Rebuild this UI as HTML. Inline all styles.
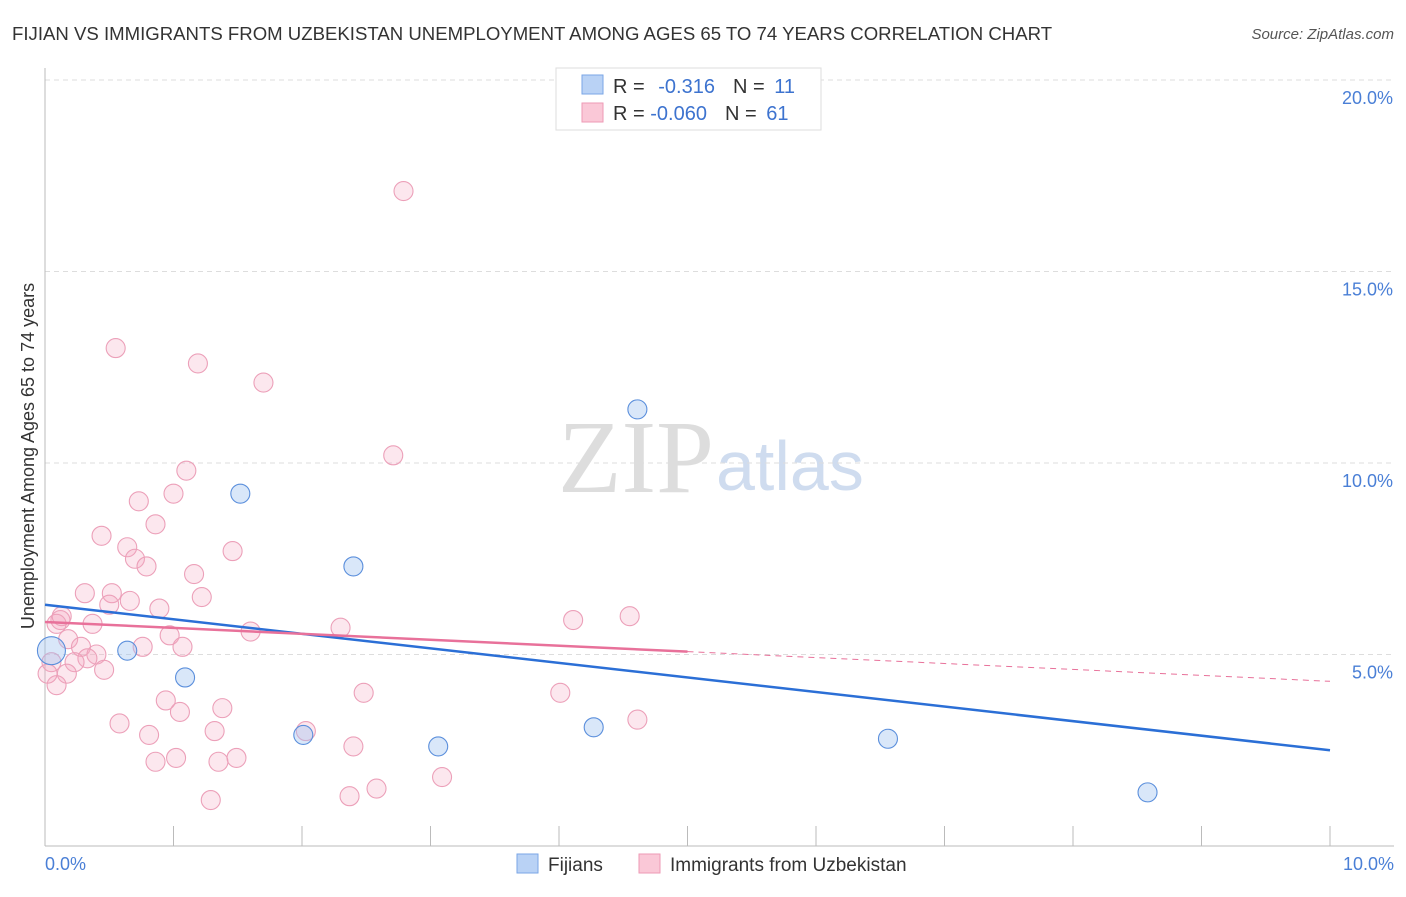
<!DOCTYPE html>
<html><head><meta charset="utf-8"><style>
body{margin:0;background:#fff;font-family:"Liberation Sans",sans-serif}
</style></head><body>
<svg width="1406" height="892" xmlns="http://www.w3.org/2000/svg" font-family="Liberation Sans, sans-serif">
<text x="12" y="40" font-size="18.6" fill="#333">FIJIAN VS IMMIGRANTS FROM UZBEKISTAN UNEMPLOYMENT AMONG AGES 65 TO 74 YEARS CORRELATION CHART</text>
<text x="1394" y="39" font-size="15" fill="#555" text-anchor="end" font-style="italic">Source: ZipAtlas.com</text>
<text x="714" y="492" font-size="104" fill="#ddd" text-anchor="end" font-family="Liberation Serif, serif">ZIP</text>
<text x="716" y="490" font-size="70" fill="#cfdcef">atlas</text>
<g id="grid"></g>
<line x1="45" y1="68" x2="45" y2="846" stroke="#bbb"/>
<line x1="45" y1="846" x2="1394" y2="846" stroke="#bbb"/>
<g id="xt"></g>
<text x="45" y="870" font-size="18" fill="#4a7fd6">0.0%</text>
<text x="1394" y="870" font-size="18" fill="#4a7fd6" text-anchor="end">10.0%</text>
<text transform="translate(34,456) rotate(-90)" font-size="18" fill="#333" text-anchor="middle">Unemployment Among Ages 65 to 74 years</text>
<g id="pts"></g>
<g id="lines"></g>
<g>
<rect x="556" y="68" width="265" height="62" fill="#fff" stroke="#ddd"/>
<rect x="582" y="75" width="21" height="19" fill="#b9d2f5" stroke="#7aa6e6"/>
<rect x="582" y="103" width="21" height="19" fill="#fac8d7" stroke="#ee9ab5"/>
<text x="613" y="93" font-size="20" fill="#333">R = <tspan fill="#3d73cf" dx="8">-0.316</tspan><tspan dx="18" fill="#333">N = </tspan><tspan fill="#3d73cf" dx="4">11</tspan></text>
<text x="613" y="120" font-size="20" fill="#333">R = <tspan fill="#3d73cf">-0.060</tspan><tspan dx="18" fill="#333">N = </tspan><tspan fill="#3d73cf" dx="4">61</tspan></text>
</g>
<g>
<rect x="517" y="854" width="21" height="19" fill="#b9d2f5" stroke="#7aa6e6"/>
<text x="548" y="871" font-size="19" fill="#333">Fijians</text>
<rect x="639" y="854" width="21" height="19" fill="#fac8d7" stroke="#ee9ab5"/>
<text x="670" y="871" font-size="19" fill="#333">Immigrants from Uzbekistan</text>
</g>
</svg>
<script>
const yTicks=[5,10,15,20];
const xTickVals=[0,1,2,3,4,5,6,7,8,9,10];
const blueX=[0.05,0.64,1.09,1.52,2.01,2.40,3.06,4.27,4.61,6.56,8.58];
const blueY=[5.1,5.1,4.4,9.2,2.9,7.3,2.6,3.1,11.4,2.8,1.4];
const pinkX=[2.79,0.55,1.19,1.70,2.71,1.10,0.73,1.00,0.86,0.44,1.46,0.64,0.70,0.79,1.16,0.31,0.52,0.66,0.50,1.22,0.89,0.12,0.09,0.37,0.97,0.76,1.60,2.30,0.18,0.28,1.07,0.40,0.33,0.23,0.46,0.17,0.09,2.48,4.01,0.94,1.05,1.38,0.58,2.03,1.32,0.81,2.40,4.61,1.02,0.86,1.35,1.49,3.09,2.58,2.37,1.29,4.11,4.55,0.05,0.02,0.13];
const pinkY=[17.1,13.0,12.6,12.1,10.2,9.8,9.0,9.2,8.4,8.1,7.7,7.8,7.5,7.3,7.1,6.6,6.6,6.4,6.3,6.5,6.2,5.9,5.8,5.8,5.5,5.2,5.6,5.7,5.4,5.2,5.2,5.0,4.9,4.8,4.6,4.5,4.2,4.0,4.0,3.8,3.5,3.6,3.2,3.0,3.0,2.9,2.6,3.3,2.3,2.2,2.2,2.3,1.8,1.5,1.3,1.2,5.9,6.0,4.8,4.5,6.0];
const blueTrend=[6.3,2.5];
const pinkTrend=[5.85,4.3];
const X=v=>45+v*128.5, Y=v=>846-v*38.3;
const ns="http://www.w3.org/2000/svg";
function mk(t,a,p){const e=document.createElementNS(ns,t);for(const k in a)e.setAttribute(k,a[k]);p.appendChild(e);return e;}
const g=document.getElementById('grid');
yTicks.forEach(v=>{
 const l=mk('line',{x1:45,y1:Y(v),x2:1394,y2:Y(v),stroke:'#ddd','stroke-dasharray':'5,4'},g);
 
 
 const t=mk('text',{x:1393,y:Y(v)+24,'font-size':18,fill:'#4a7fd6','text-anchor':'end'},g);
 t.textContent=v.toFixed(1)+'%';
 
 
});
const xt=document.getElementById('xt');
xTickVals.forEach(v=>{
 const l=mk('line',{x1:X(v),y1:826,x2:X(v),y2:846,stroke:'#bbb'},xt);
 
 
});
const p=document.getElementById('pts');
pinkX.forEach((v,i)=>{
 const c=mk('circle',{cx:X(v),cy:Y(pinkY[i]),r:9.5,fill:'rgba(246,170,195,0.28)',stroke:'#eca0b9','stroke-width':1.1},p);
 
 
});
blueX.forEach((v,i)=>{
 const c=mk('circle',{cx:X(v),cy:Y(blueY[i]),r:i==0?14:9.5,fill:'rgba(160,195,240,0.4)',stroke:'#5b8fdc','stroke-width':1.1},p);
 
 
});
const L=document.getElementById('lines');
const bl=mk('line',{x1:X(0),y1:Y(blueTrend[0]),x2:X(10),y2:Y(blueTrend[1]),stroke:'#2b6fd6','stroke-width':2.5},L);


const py=v=>pinkTrend[0]+(pinkTrend[1]-pinkTrend[0])*v/10;
const pl=mk('line',{x1:X(0),y1:Y(py(0)),x2:X(5),y2:Y(py(5)),stroke:'#e8719a','stroke-width':2.5},L);


const pd=mk('line',{x1:X(5),y1:Y(py(5)),x2:X(10),y2:Y(py(10)),stroke:'#e8719a','stroke-width':1,'stroke-dasharray':'6,5'},L);


</script>
</body></html>
